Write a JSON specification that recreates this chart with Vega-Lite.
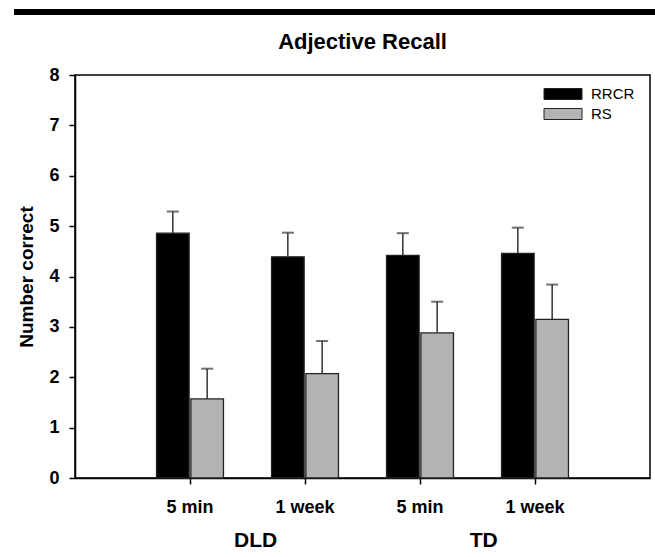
{
  "$schema": "https://vega.github.io/schema/vega-lite/v6.json",
  "padding": {"left": 14, "top": 9, "right": 0, "bottom": 0},
  "background": "white",
  "spacing": 15,
  "columns": 1,
  "config": {
    "font": "Liberation Sans",
    "view": {"stroke": "black", "strokeWidth": 1.5}
  },
  "concat": [
    {
      "width": 582,
      "height": 6,
      "view": {"stroke": null},
      "data": {"values": [{"start": -0.1048, "end": 1, "top": 1, "bottom": 0}]},
      "mark": {"type": "rect", "fill": "black", "clip": false},
      "encoding": {
        "x": {"field": "start", "type": "quantitative", "scale": {"domain": [0, 1], "nice": false, "zero": false}, "axis": null},
        "x2": {"field": "end"},
        "y": {"field": "top", "type": "quantitative", "scale": {"domain": [0, 1], "nice": false}, "axis": null},
        "y2": {"field": "bottom"}
      }
    },
    {
      "title": {"text": "Adjective Recall", "fontSize": 22, "fontWeight": "bold", "font": "Liberation Sans", "frame": "group", "offset": 12, "color": "black"},
      "width": 575,
      "height": 403,
      "layer": [
        {
          "data": {"values": [
            {"cond": "DLD|5 min", "method": "RRCR", "mean": 4.86, "upper": 5.29},
            {"cond": "DLD|5 min", "method": "RS", "mean": 1.57, "upper": 2.17},
            {"cond": "DLD|1 week", "method": "RRCR", "mean": 4.39, "upper": 4.87},
            {"cond": "DLD|1 week", "method": "RS", "mean": 2.07, "upper": 2.72},
            {"cond": "TD|5 min", "method": "RRCR", "mean": 4.42, "upper": 4.86},
            {"cond": "TD|5 min", "method": "RS", "mean": 2.88, "upper": 3.5},
            {"cond": "TD|1 week", "method": "RRCR", "mean": 4.46, "upper": 4.97},
            {"cond": "TD|1 week", "method": "RS", "mean": 3.15, "upper": 3.84}
          ]},
          "encoding": {
            "x": {
              "field": "cond", "type": "nominal",
              "sort": ["DLD|5 min", "DLD|1 week", "TD|5 min", "TD|1 week"],
              "scale": {"paddingInner": 0, "paddingOuter": 0.5},
              "axis": {
                "orient": "bottom", "title": null, "labelAngle": 0,
                "labelExpr": "split(datum.value, '|')[1]",
                "labelFontSize": 18, "labelFontWeight": "bold", "labelColor": "black",
                "labelPadding": 14, "tickSize": 6, "tickColor": "black", "tickWidth": 1.5,
                "domainColor": "black", "domainWidth": 1.5
              }
            },
            "xOffset": {
              "field": "method", "type": "nominal",
              "scale": {"paddingInner": 0.05, "paddingOuter": 0.7}
            }
          },
          "layer": [
            {
              "mark": {"type": "bar", "stroke": "#222222", "strokeWidth": 1.3},
              "encoding": {
                "y": {
                  "field": "mean", "type": "quantitative",
                  "scale": {"domain": [0, 8], "nice": false},
                  "axis": {
                    "title": "Number correct", "titleFontSize": 19, "titleFontWeight": "bold", "titleColor": "black",
                    "titlePadding": 12,
                    "values": [0, 1, 2, 3, 4, 5, 6, 7, 8], "grid": false,
                    "labelFontSize": 18, "labelFontWeight": "bold", "labelColor": "black", "labelPadding": 10,
                    "tickSize": 6, "tickColor": "black", "tickWidth": 1.5,
                    "domainColor": "black", "domainWidth": 1.5
                  }
                },
                "color": {
                  "field": "method", "type": "nominal",
                  "scale": {"domain": ["RRCR", "RS"], "range": ["#000000", "#b3b3b3"]},
                  "legend": {
                    "title": null, "orient": "none", "legendX": 478, "legendY": 75,
                    "symbolType": "M-2,-0.58H2V0.58H-2Z", "symbolSize": 361,
                    "symbolStrokeColor": "#222222", "symbolStrokeWidth": 1,
                    "labelFontSize": 15, "labelColor": "black", "labelOffset": 18,
                    "rowPadding": 2
                  }
                }
              }
            },
            {
              "mark": {"type": "rule", "color": "#333333", "strokeWidth": 1.5},
              "encoding": {
                "y": {"field": "mean", "type": "quantitative"},
                "y2": {"field": "upper"}
              }
            },
            {
              "mark": {"type": "tick", "orient": "horizontal", "color": "#333333", "size": 12, "thickness": 2},
              "encoding": {
                "y": {"field": "upper", "type": "quantitative"}
              }
            }
          ]
        },
        {
          "data": {"values": [{"group": "DLD"}, {"group": "TD"}]},
          "mark": {"type": "point", "opacity": 0},
          "encoding": {
            "x": {
              "field": "group", "type": "nominal",
              "scale": {"type": "band", "domain": ["DLD", "TD"], "paddingInner": 0, "paddingOuter": 0.261, "align": 0.56},
              "axis": {
                "orient": "bottom", "title": null, "labelAngle": 0, "ticks": false, "domain": false,
                "labelFontSize": 21, "labelFontWeight": "bold", "labelColor": "black", "labelPadding": 51
              }
            },
            "y": {"datum": 0, "type": "quantitative"}
          }
        }
      ],
      "resolve": {"scale": {"x": "independent"}, "axis": {"x": "independent"}}
    }
  ]
}
